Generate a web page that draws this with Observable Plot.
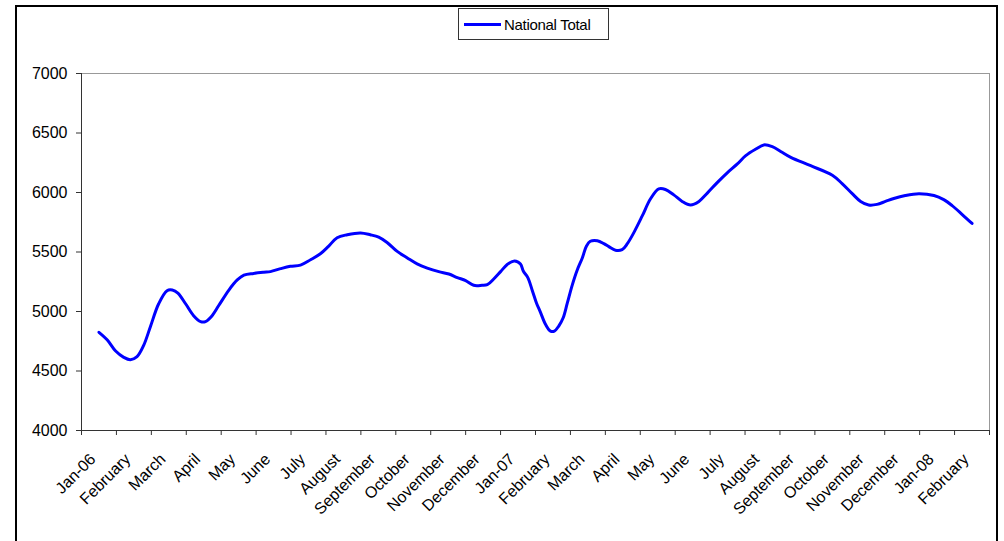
<!DOCTYPE html>
<html>
<head>
<meta charset="utf-8">
<script src="https://cdn.jsdelivr.net/npm/d3@7"></script>
<script src="https://cdn.jsdelivr.net/npm/@observablehq/plot@0.6"></script>
<style>
  html, body { margin: 0; padding: 0; background: #fff; }
  #wrap { position: relative; width: 1004px; height: 541px; overflow: hidden; background: #fff; font-family: 'Liberation Sans', Arial, sans-serif; }
  #frame { position: absolute; left: 15px; top: 5px; width: 983px; height: 700px; border: 2px solid #000; box-sizing: border-box; pointer-events: none; }
  #legend { position: absolute; left: 458px; top: 8px; width: 151px; height: 32px; border: 1px solid #333; box-sizing: border-box; background: #fff; display: flex; align-items: center; }
  #legend .sw { width: 37px; height: 3px; background: #0000ff; margin-left: 5px; margin-right: 3px; }
  #legend .tx { font-size: 15px; color: #000; letter-spacing: -0.3px; }
  #chart { position: absolute; left: 0; top: 0; }
</style>
</head>
<body>
<div id="wrap">
  <div id="chart"></div>
  <div id="frame"></div>
  <div id="legend"><div class="sw"></div><div class="tx">National Total</div></div>
</div>
<script>
const monthLabels = ["Jan-06","February","March","April","May","June","July","August","September","October","November","December","Jan-07","February","March","April","May","June","July","August","September","October","November","December","Jan-08","February"];

const yTicks = [4000, 4500, 5000, 5500, 6000, 6500, 7000];

// position along the axis in months (0 = Jan-06 category centre)
const monthPos = [0.00,0.24,0.47,0.71,0.90,1.09,1.28,1.47,1.71,1.95,2.10,2.26,2.48,2.71,2.91,3.05,3.24,3.43,3.72,3.96,4.15,4.43,4.72,4.91,5.20,5.48,5.77,6.06,6.34,6.58,6.82,7.11,7.49,7.77,8.01,8.25,8.54,8.83,9.11,9.40,9.73,10.02,10.26,10.50,10.73,10.97,11.12,11.31,11.50,11.69,11.90,12.07,12.15,12.28,12.41,12.53,12.64,12.79,12.93,13.04,13.17,13.29,13.41,13.55,13.69,13.84,13.96,14.07,14.27,14.46,14.60,14.79,14.98,15.13,15.32,15.56,15.79,16.03,16.22,16.46,16.70,16.94,17.18,17.42,17.71,17.99,18.28,18.52,18.81,19.04,19.28,19.52,19.81,20.38,21.00,21.28,21.57,21.81,22.04,22.28,22.52,22.76,23.09,23.48,23.91,24.19,24.43,24.72,25.00];

const nationalTotal = [4825,4760,4670,4615,4595,4620,4715,4870,5065,5175,5180,5155,5065,4965,4915,4915,4965,5050,5180,5265,5305,5320,5330,5335,5360,5380,5390,5435,5485,5550,5620,5645,5660,5645,5625,5580,5505,5450,5400,5365,5335,5315,5285,5260,5220,5220,5225,5275,5335,5395,5425,5400,5340,5285,5175,5070,4995,4890,4835,4835,4880,4945,5070,5220,5345,5450,5550,5590,5595,5570,5545,5515,5520,5570,5665,5805,5945,6030,6025,5980,5925,5895,5925,5995,6085,6165,6240,6310,6365,6400,6385,6345,6295,6225,6145,6075,5990,5925,5895,5900,5925,5950,5975,5990,5975,5940,5890,5815,5740];

const data = monthPos.map((m, i) => ({m, v: nationalTotal[i]}));
const boundaries = d3.range(monthLabels.length + 1).map(i => i - 0.5);
const centers = d3.range(monthLabels.length);

const chart = Plot.plot({
  width: 1004,
  height: 541,
  marginLeft: 81,
  marginRight: 15,
  marginTop: 73,
  marginBottom: 111,
  style: {fontFamily: "'Liberation Sans', Arial, sans-serif", background: "transparent", color: "#000"},
  x: {type: "linear", domain: [-0.5, monthLabels.length - 0.5]},
  y: {domain: [4000, 7000]},
  marks: [
    Plot.frame({stroke: "#999"}),
    Plot.ruleX([-0.5], {stroke: "#333"}),
    Plot.ruleY([4000], {stroke: "#333"}),
    Plot.axisY({ticks: yTicks, tickSize: 5, tickPadding: 9, fontSize: 16, label: null, tickFormat: d => String(d), stroke: "#333"}),
    Plot.axisX({ticks: boundaries, tickSize: 5, tickFormat: () => "", label: null, stroke: "#333"}),
    Plot.axisX({ticks: centers, tickSize: 0, tickPadding: 26, tickRotate: -45, dx: -6, fontSize: 16, label: null, tickFormat: i => monthLabels[i]}),
    Plot.line(data, {x: "m", y: "v", stroke: "#0000ff", strokeWidth: 3, curve: "catmull-rom"})
  ]
});
document.getElementById("chart").appendChild(chart);
</script>
</body>
</html>
